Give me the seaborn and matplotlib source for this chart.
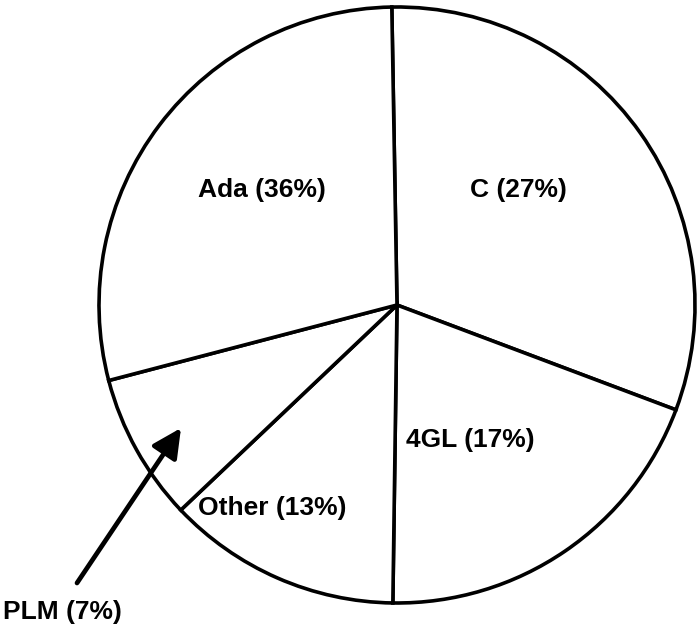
"""
言語別シェアの円グラフ（スキャン図の再現）
"""
import matplotlib
matplotlib.use('Agg')
import matplotlib.pyplot as plt
import seaborn as sns

# データ（スライスの大きさは図から読み取った角度、ラベルは図中の表記）
languages = ['C', '4GL', 'Other', 'PLM', 'Ada']
slice_share = [31.0, 19.5, 12.7, 8.0, 28.8]
label_texts = ['C (27%)', '4GL (17%)', 'Other (13%)', 'PLM (7%)', 'Ada (36%)']

sns.set_theme(style='white')
plt.rcParams['font.family'] = ['Liberation Sans', 'DejaVu Sans']

W, H = 700, 636
fig = plt.figure(figsize=(W / 100, H / 100), dpi=100)
ax = fig.add_axes([0, 0, 1, 1])

# 円グラフ本体（白塗り・黒枠）
ax.pie(
    slice_share,
    colors=['white'] * len(slice_share),
    startangle=91,
    counterclock=False,
    center=(397, H - 305),
    radius=298,
    wedgeprops=dict(edgecolor='black', linewidth=2.6),
)
ax.set_xlim(0, W)
ax.set_ylim(0, H)
ax.set_aspect('equal')
ax.axis('off')

# ラベル（図中の位置）
label_pos = {
    'C': (518, H - 190),
    '4GL': (470, H - 440),
    'Other': (272, H - 508),
    'PLM': (62, H - 612),
    'Ada': (262, H - 190),
}
for lang, txt in zip(languages, label_texts):
    x, y = label_pos[lang]
    ax.text(x, y, txt, ha='center', va='center', fontsize=19,
            fontweight='bold', color='black')

# PLMを指す矢印
ax.annotate(
    '',
    xy=(181, H - 428),
    xytext=(77, H - 583),
    arrowprops=dict(arrowstyle='-|>', color='black', lw=3.4,
                    mutation_scale=44, shrinkA=0, shrinkB=0),
)

plt.savefig('out.png', dpi=100, facecolor='white')
plt.close()
